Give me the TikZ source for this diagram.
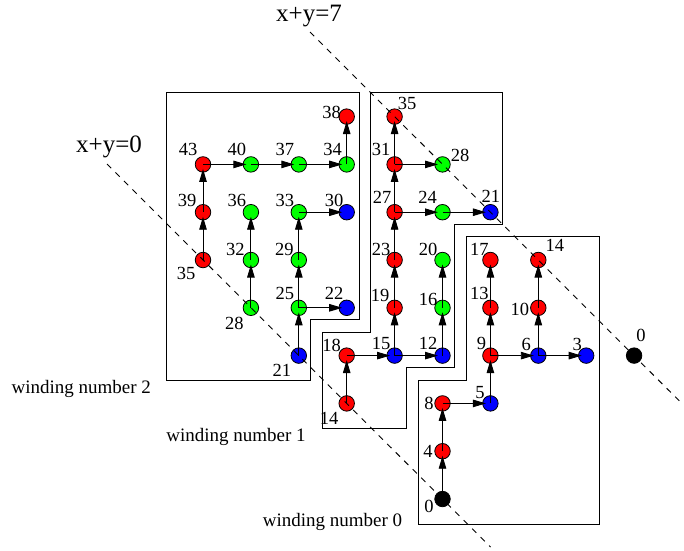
\documentclass[tikz,border=0pt]{standalone}
\usepackage{fontspec}
\setmainfont{Liberation Serif}
\usetikzlibrary{arrows.meta,calc}
\newcommand\mkv[7]{\node[vert,fill=#4] (#1) at (#2,#3) {};
  \node[lab] (#1l) at ($(#1)+(#6,#7)$) {#5};}
\newcommand\ed[2]{\draw[edge] (#1.center) -- (#2.center);}
\begin{document}
\begin{tikzpicture}[x=1pt,y=-1pt,
 vert/.style={circle,draw=black,line width=0.8pt,minimum size=15.5pt,inner sep=0pt},
 lab/.style={inner sep=0pt,font=\fontsize{18.5}{18.5}\selectfont},
 edge/.style={draw=black,line width=0.9pt,-{Triangle[length=13pt,width=7.5pt]},shorten >=4.5pt},
 region/.style={draw=black,line width=0.9pt},
 diag/.style={draw=black,line width=0.9pt,dash pattern=on 6pt off 6pt},
 bigtxt/.style={inner sep=0pt,anchor=base,font=\fontsize{25}{25}\selectfont},
 wtxt/.style={inner sep=0pt,anchor=base,font=\fontsize{19}{19}\selectfont}]
\useasboundingbox (0,0) rectangle (684,550);

% regions
\draw[region] (166.7,92.7) -- (359,92.7) -- (359,319.3) -- (310.7,319.3) -- (310.7,380) -- (166.7,380) -- cycle;
\draw[region] (370.7,92.7) -- (502.3,92.7) -- (502.3,224) -- (454.7,224) -- (454.7,367.7) -- (406.7,367.7) -- (406.7,428.3) -- (322.7,428.3) -- (322.7,332.3) -- (370.7,332.3) -- cycle;
\draw[region] (466.7,236.3) -- (599,236.3) -- (599,524.3) -- (418.7,524.3) -- (418.7,380.7) -- (466.7,380.7) -- cycle;

% left region (winding number 2)
\mkv{a21}{298.8}{355.6}{blue}{21}{-17}{14.5}
\mkv{a25}{298.8}{307.8}{green}{25}{-14}{-14.5}
\mkv{a22}{346.7}{307.8}{blue}{22}{-12.5}{-14.5}
\mkv{a29}{298.8}{260}{green}{29}{-14.5}{-10.5}
\mkv{a33}{298.8}{212.2}{green}{33}{-14}{-12}
\mkv{a30}{346.7}{212.2}{blue}{30}{-12.5}{-12}
\mkv{a28}{250.9}{307.8}{green}{28}{-16.5}{15.5}
\mkv{a32}{250.9}{260}{green}{32}{-15.5}{-10.5}
\mkv{a36}{250.9}{212.2}{green}{36}{-14}{-12}
\mkv{a35}{203}{260}{red}{35}{-17}{13.5}
\mkv{a39}{203}{212.2}{red}{39}{-16}{-12}
\mkv{a43}{203}{164.4}{red}{43}{-15}{-15}
\mkv{a40}{250.9}{164.4}{green}{40}{-14}{-15}
\mkv{a37}{298.8}{164.4}{green}{37}{-14}{-15}
\mkv{a34}{346.7}{164.4}{green}{34}{-14}{-14.5}
\mkv{a38}{346.7}{116.6}{red}{38}{-15}{-4.5}

% middle region (winding number 1)
\mkv{b14}{346.7}{403.4}{red}{14}{-17.5}{14.5}
\mkv{b18}{346.7}{355.6}{red}{18}{-15}{-10.5}
\mkv{b15}{394.6}{355.6}{blue}{15}{-13.5}{-12}
\mkv{b12}{442.5}{355.6}{blue}{12}{-14.5}{-12}
\mkv{b16}{442.5}{307.8}{green}{16}{-14.5}{-8}
\mkv{b20}{442.5}{260}{green}{20}{-14.5}{-10.5}
\mkv{b19}{394.6}{307.8}{red}{19}{-14.5}{-12}
\mkv{b23}{394.6}{260}{red}{23}{-13.5}{-11}
\mkv{b27}{394.6}{212.2}{red}{27}{-12.5}{-15}
\mkv{b24}{442.5}{212.2}{green}{24}{-15}{-15}
\mkv{b21}{490.4}{212.2}{blue}{21}{0.5}{-16}
\mkv{b31}{394.6}{164.4}{red}{31}{-13.5}{-15}
\mkv{b28}{442.5}{164.4}{green}{28}{17.5}{-9}
\mkv{b35}{394.6}{116.6}{red}{35}{12.5}{-13.5}

% right region (winding number 0)
\mkv{c0}{442.5}{499}{black}{0}{-13.5}{7}
\mkv{c4}{442.5}{451.2}{red}{4}{-14.5}{0}
\mkv{c8}{442.5}{403.4}{red}{8}{-13.5}{0}
\mkv{c5}{490.4}{403.4}{blue}{5}{-10.5}{-10.5}
\mkv{c9}{490.4}{355.6}{red}{9}{-9}{-12.5}
\mkv{c6}{538.3}{355.6}{blue}{6}{-12}{-11}
\mkv{c3}{586.2}{355.6}{blue}{3}{-9}{-11}
\mkv{c13}{490.4}{307.8}{red}{13}{-11}{-14.5}
\mkv{c17}{490.4}{260}{red}{17}{-11}{-10.5}
\mkv{c10}{538.3}{307.8}{red}{10}{-18.5}{2}
\mkv{c14}{538.3}{260}{red}{14}{16.5}{-14.5}
\mkv{d0}{634.1}{355.6}{black}{0}{7}{-20.5}

% edges
\ed{a21}{a25}\ed{a25}{a22}\ed{a25}{a29}\ed{a29}{a33}\ed{a33}{a30}
\ed{a28}{a32}\ed{a32}{a36}
\ed{a35}{a39}\ed{a39}{a43}\ed{a43}{a40}\ed{a40}{a37}\ed{a37}{a34}\ed{a34}{a38}
\ed{b14}{b18}\ed{b18}{b15}\ed{b15}{b12}\ed{b15}{b19}\ed{b19}{b23}\ed{b23}{b27}
\ed{b27}{b24}\ed{b24}{b21}\ed{b27}{b31}\ed{b31}{b28}\ed{b31}{b35}
\ed{b12}{b16}\ed{b16}{b20}
\ed{c0}{c4}\ed{c4}{c8}\ed{c8}{c5}\ed{c5}{c9}\ed{c9}{c6}\ed{c6}{c3}
\ed{c9}{c13}\ed{c13}{c17}\ed{c6}{c10}\ed{c10}{c14}

% diagonals
\coordinate (s0) at (107,164);
\coordinate (e0) at (490.5,547);
\coordinate (s7) at (310,32);
\coordinate (e7) at (682,403.6);
\draw[diag] (s0) -- (e0);
\draw[diag] (s7) -- (e7);

% texts
\node[bigtxt] (t7) at (309,21.7) {x+y=7};
\node[bigtxt] (t0) at (109,152.7) {x+y=0};
\node[wtxt] (w2) at (81.2,393.3) {winding number 2};
\node[wtxt] (w1) at (236,441.7) {winding number 1};
\node[wtxt] (w0) at (332.5,526) {winding number 0};
\end{tikzpicture}
\end{document}
